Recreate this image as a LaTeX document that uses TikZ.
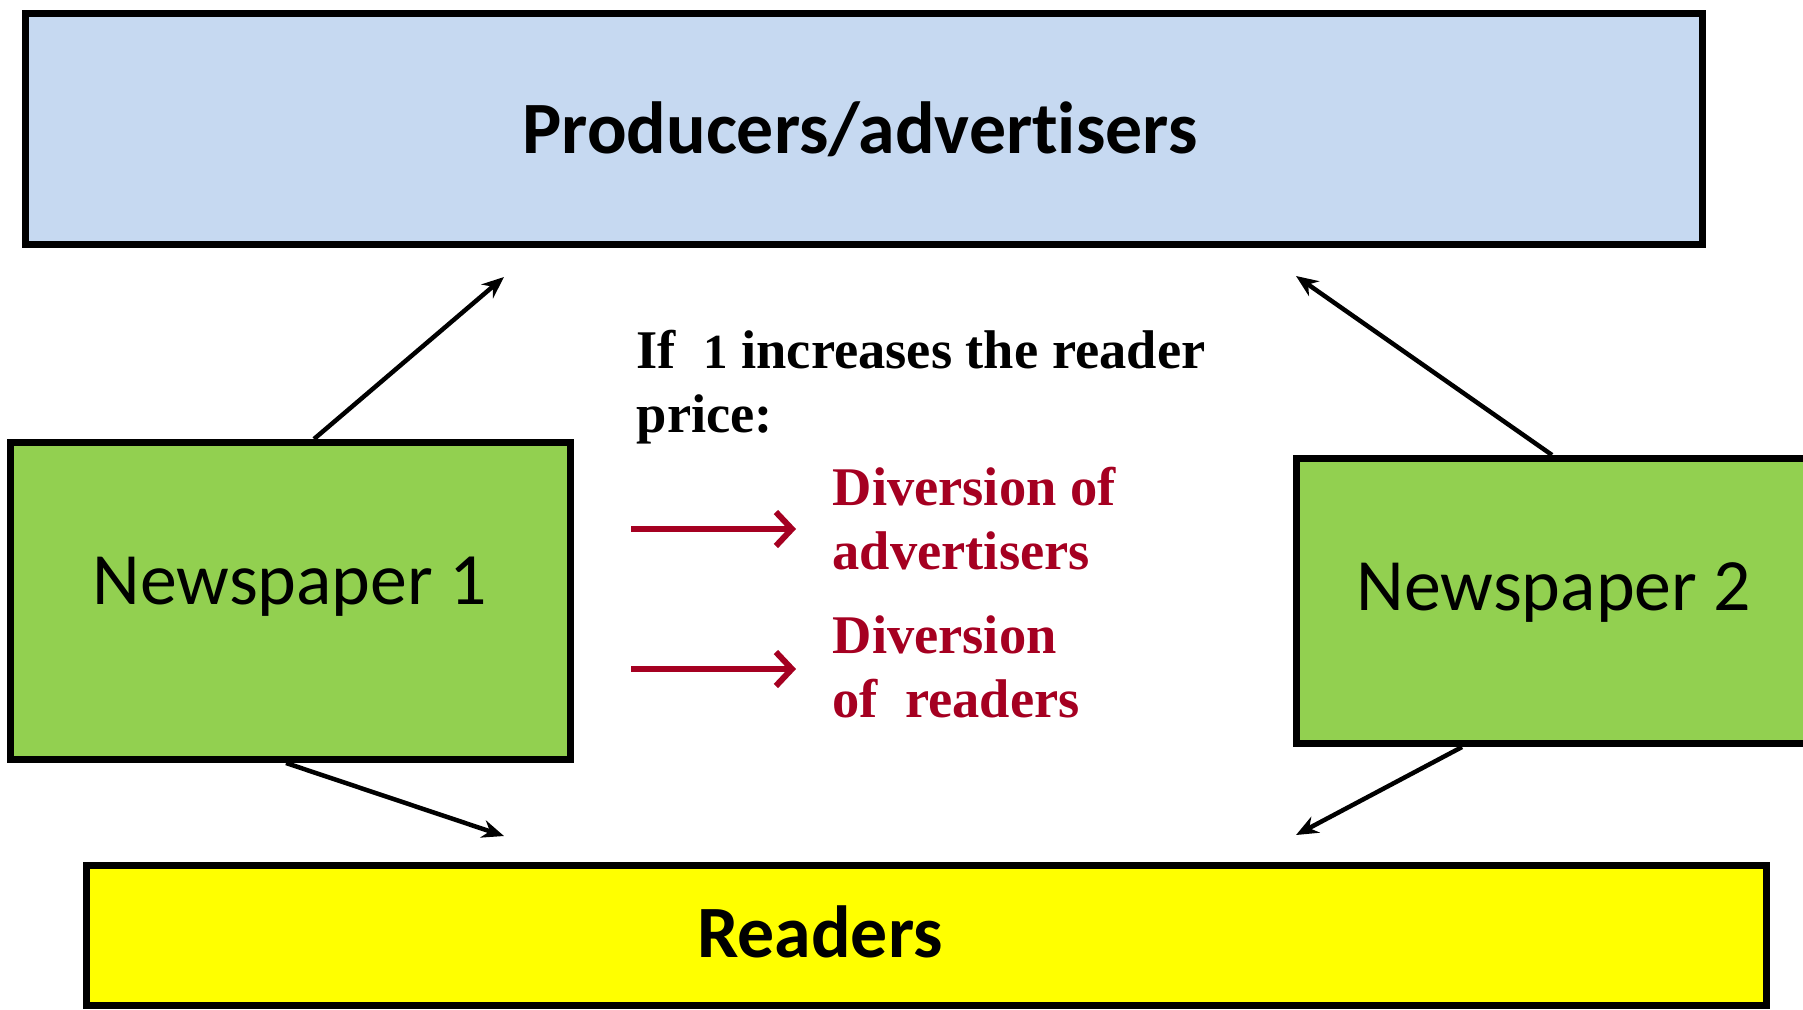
\documentclass[tikz,border=0pt]{standalone}
\usepackage{fontspec}
\setmainfont{Liberation Serif}
\newfontfamily\calib[Ligatures=NoCommon]{Carlito}
\usetikzlibrary{arrows.meta}
\definecolor{topblue}{HTML}{C6D9F1}
\definecolor{npgreen}{HTML}{92D050}
\definecolor{rdyellow}{HTML}{FFFF00}
\definecolor{divred}{HTML}{A50021}
\begin{document}
\begin{tikzpicture}[x=0.1mm,y=-0.1mm,
  boxnode/.style={draw=black, line width=0.7mm, rectangle, inner sep=0pt},
  boxlabel/.style={font=\calib\fontsize{21}{25}\selectfont, anchor=base, inner sep=0pt},
  boxlabelbold/.style={font=\calib\bfseries\fontsize{21}{25}\selectfont, anchor=base, inner sep=0pt},
  flowarrow/.style={-{Stealth[length=2.2mm,width=1.8mm]}, line width=0.45mm},
  redarrow/.style={divred, line width=0.6mm, -{Straight Barb[length=1.6mm,width=3.4mm,line width=0.6mm]}},
  condtext/.style={font=\bfseries\fontsize{15.5}{18.2}\selectfont, anchor=base west, align=left, inner sep=0pt},
  redtext/.style={condtext, text=divred}
]
\useasboundingbox (0,0) rectangle (1803,1009);

% boxes
\node[boxnode, fill=topblue, minimum width=167.7mm, minimum height=23.1mm] (prod) at (864,129) {};
\node[boxnode, fill=npgreen, minimum width=56.0mm, minimum height=31.7mm] (n1) at (290.5,601) {};
\node[boxnode, fill=npgreen, minimum width=51.5mm, minimum height=28.5mm] (n2) at (1554,601) {};
\node[boxnode, fill=rdyellow, minimum width=168.0mm, minimum height=14.0mm] (read) at (926.5,935.5) {};

% box labels
\node[boxlabelbold] (prodlbl) at (860,153) {Producers/advertisers};
\node[boxlabel] (n1lbl) at (290,604) {Newspaper 1};
\node[boxlabel] (n2lbl) at (1554,610) {Newspaper 2};
\node[boxlabelbold] (readlbl) at (820,957) {Readers};

% black connectors
\coordinate (t1) at (504,277);
\coordinate (t2) at (1296,276);
\coordinate (t3) at (504,836);
\coordinate (t4) at (1296,835);
\draw[flowarrow] ([xshift=2.35mm]n1.north) -- (t1);
\draw[flowarrow] ([xshift=-0.2mm]n2.north) -- (t2);
\draw[flowarrow] ([xshift=-0.45mm]n1.south) -- (t3);
\draw[flowarrow] ([xshift=-9.2mm]n2.south) -- (t4);

% middle text (base = last line's baseline)
\node[condtext] (cond) at (636,432) {If\ \ \scalebox{0.9}{1} increases the reader\\price:};
\coordinate (r1s) at (631,529);
\coordinate (r1e) at (796,529);
\coordinate (r2s) at (631,669);
\coordinate (r2e) at (796,669);
\draw[redarrow] (r1s) -- (r1e);
\draw[redarrow] (r2s) -- (r2e);
\node[redtext] (divadv) at (832,569) {Diversion of\\advertisers};
\node[redtext] (divread) at (832,717) {Diversion\\of\ \ readers};
\end{tikzpicture}
\end{document}
